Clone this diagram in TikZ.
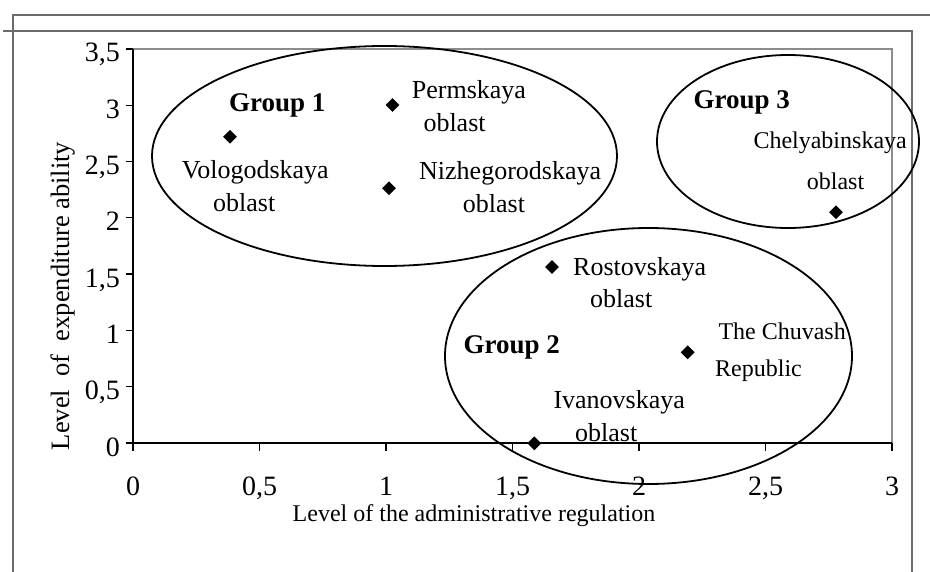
\documentclass[tikz,border=0pt]{standalone}
\usepackage{fontspec}
\setmainfont{Liberation Serif}
\usetikzlibrary{shapes.geometric}
\begin{document}
\begin{tikzpicture}[x=1pt,y=-1pt,
  frameline/.style={draw=gray!85!black, line width=1.4pt},
  plotframe/.style={draw=gray!90, line width=1.4pt},
  axisline/.style={draw=black, line width=1.6pt},
  tickline/.style={draw=black, line width=1.2pt},
  grp/.style={draw=black, line width=1.8pt},
  pt/.style={shape=diamond, fill=black, inner sep=0pt, minimum width=14pt, minimum height=14pt},
  lbl/.style={anchor=base west, inner sep=0pt, font=\fontsize{26}{30}\selectfont},
  slbl/.style={anchor=base west, inner sep=0pt, font=\fontsize{24}{28}\selectfont},
  glbl/.style={anchor=base west, inner sep=0pt, font=\fontsize{27}{30}\selectfont\bfseries},
  ytick/.style={anchor=base east, inner sep=0pt, font=\fontsize{28}{32}\selectfont},
  xtick/.style={anchor=base, inner sep=0pt, font=\fontsize{28}{32}\selectfont},
]
\useasboundingbox (0,0) rectangle (930,572);
% page frame lines
\draw[frameline] (13,572) -- (13,15) -- (930,15);
\draw[frameline] (3,31) -- (912,31) -- (912,572);
% plot area
\draw[plotframe] (133,49) -- (892,49) -- (892,443);
\draw[axisline] (133,49) -- (133,443) -- (892,443);
% y ticks
\foreach \yy/\tt in {443/0, 386.7/{0,5}, 330.4/1, 274.1/{1,5}, 217.9/2, 161.6/{2,5}, 105.3/3, 49/{3,5}}{
  \draw[tickline] (126,\yy) -- (133,\yy);
  \node[ytick] at (120,\yy+13) {\tt};
}
% x ticks
\foreach \xx/\tt in {133/0, 259.5/{0,5}, 386/1, 512.5/{1,5}, 639/2, 765.5/{2,5}, 892/3}{
  \draw[tickline] (\xx,443) -- (\xx,451);
  \node[xtick] at (\xx,495) {\tt};
}
% axis titles
\node[anchor=base, inner sep=0pt, font=\fontsize{24}{28}\selectfont] (xtitle) at (474,521) {Level of the administrative regulation};
\node[anchor=base, inner sep=0pt, rotate=90, font=\fontsize{26.5}{30}\selectfont] (ytitle) at (69,296) {Level\ \ of\ \ expenditure ability};
% group ellipses
\draw[grp] (384.5,156) ellipse [x radius=232.5pt, y radius=110pt];
\draw[grp] (648.5,356) ellipse [x radius=203.5pt, y radius=128pt];
\draw[grp] (788,141.5) ellipse [x radius=131pt, y radius=86.5pt];
% data points
\node[pt] (volo) at (230,136.7) {};
\node[pt] (perm) at (392.5,105) {};
\node[pt] (nizh) at (389,188.3) {};
\node[pt] (chel) at (836,212.3) {};
\node[pt] (rost) at (552,267) {};
\node[pt] (chuv) at (687.7,352.3) {};
\node[pt] (ivan) at (534.3,443.3) {};
% labels
\node[lbl] (voloa) at (181.7,179) {Vologodskaya};
\node[lbl] (volob) at (213,211.7) {oblast};
\node[lbl] (perma) at (411.7,99) {Permskaya};
\node[lbl] (permb) at (423.3,131.7) {oblast};
\node[lbl] (nizha) at (419,180) {Nizhegorodskaya};
\node[lbl] (nizhb) at (462.7,213) {oblast};
\node[slbl] (chela) at (753.3,148.3) {Chelyabinskaya};
\node[slbl] (chelb) at (806.7,190) {oblast};
\node[lbl] (rosta) at (573,276) {Rostovskaya};
\node[lbl] (rostb) at (590,308) {oblast};
\node[slbl] (chuva) at (718.3,340) {The Chuvash};
\node[slbl] (chuvb) at (715,376.7) {Republic};
\node[lbl] (ivana) at (553.3,408.3) {Ivanovskaya};
\node[lbl] (ivanb) at (575,441.7) {oblast};
% group labels
\node[glbl] (g1) at (229,112) {Group 1};
\node[glbl] (g2) at (463.3,353.3) {Group 2};
\node[glbl] (g3) at (693.3,109) {Group 3};
\end{tikzpicture}
\end{document}
